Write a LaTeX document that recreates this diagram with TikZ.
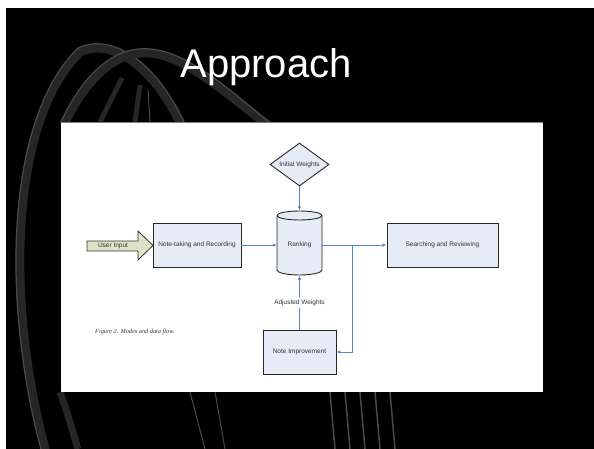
\documentclass[tikz,border=0pt]{standalone}
\usepackage{fontspec}
\setmainfont{Liberation Sans}
\newfontfamily\capfont{Liberation Serif}
\usetikzlibrary{shapes.geometric,arrows.meta}
\definecolor{flowblue}{HTML}{5585C8}
\definecolor{boxfill}{HTML}{E6ECF6}
\definecolor{arrowfill}{HTML}{DDE3C6}
\definecolor{tire}{HTML}{262626}
\definecolor{tirehi}{HTML}{484848}
\begin{document}
\begin{tikzpicture}[x=1pt,y=-1pt,
  box/.style={draw=black!85, line width=0.9pt, fill=boxfill, font=\fontsize{6.5}{7}\selectfont, text=black!80, inner sep=0pt},
  flow/.style={draw=flowblue, line width=0.9pt, -{Latex[length=4pt,width=3.5pt]}},
  lbl/.style={font=\fontsize{6.5}{7}\selectfont, text=black!80},
  band/.style={draw=tire, line width=9pt, line cap=round},
  bandhi/.style={draw=tirehi, line width=1.2pt, line cap=round}]
% slide background
\fill[white] (0,0) rectangle (594,449);
\fill[black] (6,8) rectangle (594,449);
\useasboundingbox (0,0) rectangle (594,449);
\begin{scope}
\clip (6,8) rectangle (594,449);
% wheel decoration
\draw[band] (45,449) .. controls (5,300) and (10,120) .. (80,52) .. controls (110,38) and (150,62) .. (180,122);
\draw[bandhi] (41,449) .. controls (1,300) and (6,118) .. (78,48) .. controls (110,33) and (154,58) .. (184,122);
\draw[band] (65,122) .. controls (90,72) and (120,50) .. (150,53) .. controls (185,56) and (222,90) .. (268,125);
\draw[bandhi] (61,122) .. controls (86,68) and (118,46) .. (150,49) .. controls (187,52) and (226,86) .. (272,125);
\draw[draw=tire, line width=5pt] (100,122) -- (122,78);
\draw[draw=tire, line width=5pt] (135,122) -- (140,85);
\draw[draw=tirehi, line width=1pt] (150,122) -- (148,90);
\draw[draw=tire, line width=7pt] (60,392) .. controls (70,420) and (75,440) .. (78,449);
\draw[draw=tirehi, line width=1pt] (190,392) -- (205,449);
\draw[draw=tirehi, line width=1pt] (215,392) -- (225,449);
\foreach \xx in {330,345,360,375,390}
  \draw[draw=tirehi, line width=1.5pt] (\xx,392) -- (\xx+5,449);
\end{scope}
% title
\node[font=\fontsize{40}{40}\selectfont, text=white, anchor=base] (title) at (266,78) {Approach};
% white panel
\fill[white] (61,122) rectangle (543,392);
\draw[gray, line width=0.6pt] (61,122) -- (543,122);
% caption
\node[font=\capfont\itshape\fontsize{6.3}{7}\selectfont, anchor=west, text=black!80, inner sep=0pt] (cap) at (95,332) {Figure 2. Modes and data flow.};
% boxes
\node[box, minimum width=88, minimum height=44] (note) at (197,245) {Note-taking and Recording};
\node[box, minimum width=111, minimum height=44] (search) at (442.5,245) {Searching and Reviewing};
\node[box, minimum width=73, minimum height=44] (impr) at (299.5,352) {Note Improvement};
\node[box, diamond, aspect=1.37, minimum width=59, minimum height=43] (iw) at (299.5,164.5) {Initial Weights};
% cylinder
\filldraw[draw=black!85, line width=0.9pt, fill=boxfill]
  (277,215.5) -- (277,270) arc[start angle=180, end angle=0, x radius=22.5, y radius=5]
  -- (322,215.5) arc[start angle=0, end angle=-180, x radius=22.5, y radius=4.5] -- cycle;
\draw[draw=black!85, line width=0.9pt] (277,215.5) arc[start angle=180, end angle=0, x radius=22.5, y radius=4.5];
\node[lbl, minimum width=45, minimum height=65, inner sep=0pt] (rank) at (299.5,243) {};
\node[lbl] (ranktxt) at (299.5,245) {Ranking};
% user input arrow
\filldraw[draw=black!80, line width=0.8pt, fill=arrowfill]
  (87,241) -- (138,241) -- (138,231) -- (153,245.5) -- (138,260) -- (138,251) -- (87,251) -- cycle;
\node[lbl] (ui) at (113,246) {User Input};
% connectors
\draw[flow] (iw.south) -- (rank.north);
\draw[flow] (note.east) -- (note.east -| rank.west);
\coordinate (br) at (352,245);
\draw[flow] (rank.east |- search.west) -- (search.west);
\draw[flow] (br) |- (impr.east);
\draw[flow] (impr.north) -- (rank.south);
\node[lbl, fill=white, inner sep=1.5pt] (adj) at (299.5,303) {Adjusted Weights};
\end{tikzpicture}
\end{document}
